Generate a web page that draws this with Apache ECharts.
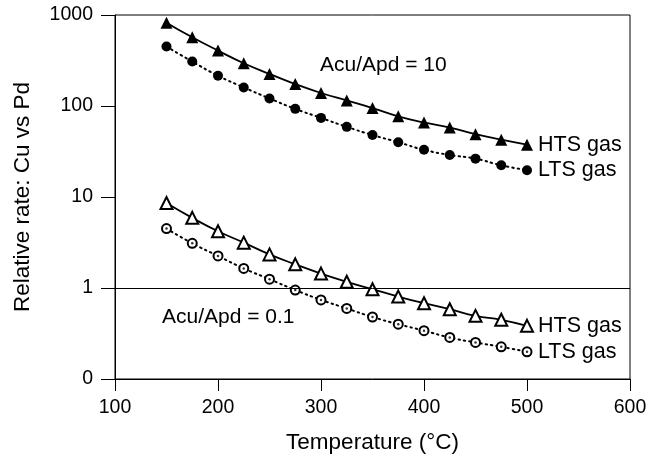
<!DOCTYPE html>
<html>
<head>
<meta charset="utf-8">
<script src="https://cdn.jsdelivr.net/npm/echarts@6/dist/echarts.min.js"></script>
<style>
  html, body { margin: 0; padding: 0; background: #fff; }
  #chart { width: 664px; height: 459px; }
</style>
</head>
<body>
<div id="chart"></div>
<script>
const temps = [150, 175, 200, 225, 250, 275, 300, 325, 350, 375, 400, 425, 450, 475, 500]
// Acu/Apd = 10
const htsHigh = [824, 569, 406, 295, 225, 174, 139, 115, 95, 77, 66, 58, 49, 42.7, 37.6]
const ltsHigh = [450, 308, 215, 160, 121, 93, 74, 59, 48, 40, 33, 29, 26.4, 22.3, 19.7]
// Acu/Apd = 0.1
const htsLow = [8.6, 5.9, 4.2, 3.15, 2.34, 1.82, 1.44, 1.17, 0.97, 0.805, 0.68, 0.585, 0.494, 0.447, 0.384]
const ltsLow = [4.5, 3.1, 2.25, 1.64, 1.25, 0.95, 0.74, 0.596, 0.48, 0.40, 0.34, 0.286, 0.252, 0.226, 0.199]

const font = '"Liberation Sans", Arial, sans-serif'
const pairs = ys => temps.map((t, i) => [t, ys[i]])

const chart = echarts.init(document.getElementById('chart'))

const curve = (data, dotted, symbol, size, label) => ({
  type: 'line',
  data: pairs(data),
  smooth: true,
  symbol: symbol,
  symbolSize: size,
  showAllSymbol: true,
  lineStyle: { color: '#000', width: dotted ? 2 : 1.8, type: dotted ? [1.5, 4] : 'solid', cap: 'round' },
  itemStyle: { color: '#000', borderWidth: 1.3 },
  endLabel: { show: true, formatter: label, color: '#000', fontFamily: font, fontSize: 21.5, distance: 11 },
  z: 3
})

const option = {
  animation: false,
  grid: { left: 115, right: 34, top: 15, bottom: 79, show: true, borderColor: '#000', borderWidth: 1 },
  xAxis: {
    type: 'value', min: 100, max: 600, interval: 100,
    name: 'Temperature (°C)', nameLocation: 'middle', nameGap: 52,
    nameTextStyle: { color: '#000', fontFamily: font, fontSize: 22.5 },
    axisLine: { lineStyle: { color: '#000' } },
    axisTick: { inside: false, length: 12, lineStyle: { color: '#000' } },
    axisLabel: { color: '#000', fontFamily: font, fontSize: 19.5, margin: 19 },
    splitLine: { show: false }
  },
  yAxis: {
    type: 'log', logBase: 10, min: 0.1, max: 1000,
    name: 'Relative rate: Cu vs Pd', nameLocation: 'middle', nameGap: 81, nameRotate: 90,
    nameTextStyle: { color: '#000', fontFamily: font, fontSize: 22.5 },
    axisLine: { lineStyle: { color: '#000' } },
    axisTick: { inside: false, length: 14, lineStyle: { color: '#000' } },
    axisLabel: { color: '#000', fontFamily: font, fontSize: 19.5, margin: 22, formatter: v => v < 1 ? '0' : String(v) },
    splitLine: { show: false },
    minorTick: { show: false }
  },
  series: [
    Object.assign(curve(htsHigh, false, 'triangle', 12, 'HTS gas'), {
      markLine: {
        silent: true, symbol: 'none', label: { show: false },
        lineStyle: { color: '#000', width: 1, type: 'solid' },
        data: [{ yAxis: 1 }]
      }
    }),
    curve(ltsHigh, true, 'circle', 10, 'LTS gas'),
    curve(htsLow, false, 'emptyTriangle', 12, 'HTS gas'),
    curve(ltsLow, true, 'emptyCircle', 9, 'LTS gas'),
    {
      type: 'scatter', data: pairs(ltsLow), symbol: 'circle', symbolSize: 2.5,
      itemStyle: { color: '#000' }, z: 5, silent: true
    }
  ],
  graphic: [
    { type: 'text', left: 320, top: 55, style: { text: 'Acu/Apd = 10', fill: '#000', font: '21px ' + font } },
    { type: 'text', left: 162, top: 307, style: { text: 'Acu/Apd = 0.1', fill: '#000', font: '21px ' + font } }
  ]
}

chart.setOption(option)
</script>
</body>
</html>
